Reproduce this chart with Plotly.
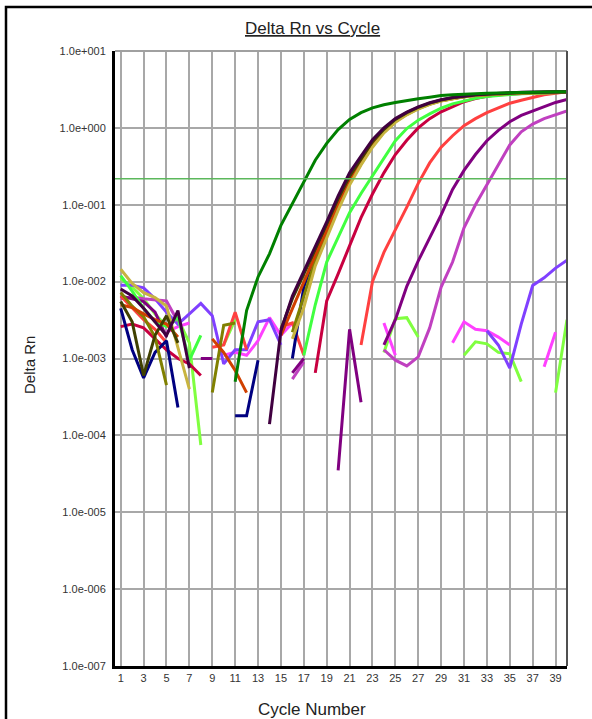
import plotly.graph_objects as go

N = None
cycles = list(range(1, 41))
x_tick_vals = list(range(1, 40, 2))
x_tick_text = [str(v) for v in x_tick_vals]
y_tick_vals = [1e1, 1e0, 1e-1, 1e-2, 1e-3, 1e-4, 1e-5, 1e-6, 1e-7]
y_tick_text = ["1.0e+001", "1.0e+000", "1.0e-001", "1.0e-002", "1.0e-003",
               "1.0e-004", "1.0e-005", "1.0e-006", "1.0e-007"]
threshold = 0.218

# ---- series values (Delta Rn per cycle 1..40, None = not drawn) ----
dark_green = [N, N, N, N, N, N, N, N, N, N,
              5.0e-4, 4.2e-3, 1.15e-2, 2.3e-2, 5.4e-2, 0.105, 0.20, 0.38, 0.63, 0.95,
              1.29, 1.58, 1.82, 2.0, 2.14, 2.29, 2.4, 2.51, 2.63, 2.69,
              2.75, 2.8, 2.82, 2.85, 2.88, 2.9, 2.92, 2.93, 2.94, 2.95]
dark_purple = [8.0e-3, 6.5e-3, 4.5e-3, 3.0e-3, 2.0e-3, 4.2e-3, 7.5e-4, N, N, N,
               N, N, N, 1.4e-4, 2.3e-3, 6.5e-3, 1.35e-2, 2.9e-2, 6.0e-2, 0.13,
               0.26, 0.43, 0.70, 1.0, 1.32, 1.6, 1.88, 2.12, 2.32, 2.48,
               2.6, 2.7, 2.76, 2.82, 2.86, 2.9, 2.92, 2.94, 2.95, 2.96]
dark_olive = [5.5e-3, 3.0e-3, 6.0e-4, 2.0e-3, 3.6e-3, 1.6e-3, N, N, N, N,
              N, N, N, N, 2.4e-3, 6.0e-3, 1.25e-2, 2.7e-2, 5.6e-2, 0.12,
              0.235, 0.40, 0.66, 0.96, 1.29, 1.58, 1.85, 2.1, 2.3, 2.46,
              2.58, 2.68, 2.74, 2.8, 2.84, 2.87, 2.89, 2.91, 2.92, 2.93]
navy = [4.5e-3, 1.3e-3, 5.6e-4, 1.2e-3, 1.7e-3, 2.3e-4, N, N, N, N,
        1.8e-4, 1.8e-4, 9.5e-4, N, N, 1.0e-3, 8.5e-3, 2.3e-2, 5.0e-2, 0.108,
        0.215, 0.37, 0.62, 0.92, 1.25, 1.54, 1.81, 2.07, 2.27, 2.43,
        2.56, 2.66, 2.73, 2.79, 2.83, 2.86, 2.88, 2.9, 2.91, 2.92]
olive = [7.2e-3, 4.8e-3, 3.5e-3, 1.9e-3, 4.5e-4, N, N, N, 3.6e-4, 2.7e-3,
         2.9e-3, N, N, N, N, 2.2e-3, 6.5e-3, 1.9e-2, 4.2e-2, 9.2e-2,
         0.19, 0.34, 0.58, 0.88, 1.2, 1.5, 1.78, 2.03, 2.25, 2.41,
         2.54, 2.64, 2.71, 2.77, 2.81, 2.85, 2.87, 2.89, 2.9, 2.91]
khaki = [1.45e-2, 9.5e-3, 7.2e-3, 6.2e-3, 4.8e-3, 1.4e-3, 4.0e-4, N, N, N,
         N, N, N, N, N, 1.8e-3, 4.6e-3, 1.6e-2, 3.8e-2, 8.5e-2,
         0.18, 0.33, 0.56, 0.86, 1.18, 1.48, 1.76, 2.02, 2.24, 2.4,
         2.53, 2.63, 2.7, 2.76, 2.8, 2.84, 2.86, 2.88, 2.9, 2.91]
orange_brown = [5.0e-3, 4.6e-3, 3.8e-3, 3.2e-3, 2.8e-3, 1.9e-3, N, N, 1.8e-3, 1.2e-3,
                7.0e-4, 3.6e-4, N, N, 2.0e-3, 4.5e-3, 1.0e-2, 2.2e-2, 4.6e-2, 0.10,
                0.20, 0.36, 0.60, 0.90, 1.22, 1.52, 1.8, 2.05, 2.26, 2.42,
                2.55, 2.65, 2.72, 2.78, 2.82, 2.85, 2.88, 2.9, 2.92, 2.95]
red = [6.5e-3, 4.5e-3, 3.2e-3, 2.4e-3, 1.6e-3, N, N, N, 1.4e-3, 1.5e-3,
       4.0e-3, 1.3e-3, N, N, 2.6e-3, 2.9e-3, 1.1e-3, N, N, N,
       N, 1.5e-3, 1.0e-2, 2.4e-2, 4.7e-2, 9.3e-2, 0.19, 0.35, 0.56, 0.79,
       1.07, 1.32, 1.58, 1.82, 2.09, 2.29, 2.51, 2.69, 2.82, 2.95]
crimson = [2.6e-3, 2.8e-3, 2.5e-3, 1.8e-3, 1.3e-3, 1.0e-3, 8.5e-4, 6.0e-4, N, N,
           N, N, N, N, N, N, N, 6.5e-4, 5.6e-3, 1.26e-2,
           3.0e-2, 6.8e-2, 0.138, 0.26, 0.45, 0.69, 1.0, 1.32, 1.62, 1.9,
           2.19, 2.4, 2.57, 2.69, 2.75, 2.82, 2.88, 2.9, 2.95, 2.98]
bright_green = [1.2e-2, 7.5e-3, 4.5e-3, 3.0e-3, 2.6e-3, 3.4e-3, 9.5e-4, 2.0e-3, N, N,
                N, N, N, N, N, N, 1.1e-3, 5.0e-3, 1.8e-2, 3.8e-2,
                7.9e-2, 0.14, 0.24, 0.40, 0.68, 0.98, 1.26, 1.52, 1.8, 2.05,
                2.25, 2.42, 2.55, 2.65, 2.72, 2.78, 2.82, 2.85, 2.88, 2.9]
chartreuse = [1.1e-2, 8.5e-3, 6.0e-3, 3.8e-3, 2.6e-3, 3.3e-3, 1.6e-3, 7.5e-5, N, 1.5e-3,
              3.2e-3, N, N, N, N, N, N, N, N, N,
              N, N, N, 1.2e-3, 3.3e-3, 3.4e-3, 1.9e-3, N, N, N,
              1.1e-3, 1.65e-3, 1.55e-3, 1.2e-3, 1.15e-3, 5.0e-4, N, N, 3.6e-4, 3.2e-3]
purple = [6.5e-3, 6.0e-3, 5.5e-3, 4.0e-3, 1.9e-3, N, N, 1.0e-3, 1.0e-3, N,
          N, N, N, N, N, 6.5e-4, 1.0e-3, N, N, 3.5e-5,
          2.4e-3, 2.7e-4, N, 1.5e-3, 3.2e-3, 8.7e-3, 1.86e-2, 3.7e-2, 7.4e-2, 0.158,
          0.28, 0.45, 0.68, 0.93, 1.2, 1.45, 1.66, 1.9, 2.14, 2.34]
orchid = [6.0e-3, 6.3e-3, 6.0e-3, 5.8e-3, 5.6e-3, 3.0e-3, N, N, N, N,
          N, N, N, N, N, 5.4e-4, 9.0e-4, N, N, N,
          N, N, N, 1.3e-3, 9.5e-4, 8.0e-4, 1.05e-3, 2.5e-3, 8.5e-3, 1.8e-2,
          5.0e-2, 0.10, 0.18, 0.33, 0.60, 0.89, 1.12, 1.32, 1.48, 1.66]
magenta = [N, N, N, N, 2.2e-3, 2.6e-3, 2.9e-3, N, N, 1.1e-3,
           1.2e-3, 1.1e-3, 1.7e-3, 3.4e-3, 2.0e-3, 2.9e-3, N, N, N, N,
           N, N, N, 2.9e-3, 1.1e-3, N, N, N, N, 1.6e-3,
           3.0e-3, 2.4e-3, 2.3e-3, 1.9e-3, 1.5e-3, N, N, 7.8e-4, 2.2e-3, N]
blue_violet = [9.0e-3, 9.0e-3, 8.3e-3, 6.0e-3, 4.0e-3, 2.8e-3, 3.8e-3, 5.2e-3, 3.6e-3, 8.5e-4,
               1.3e-3, 1.3e-3, 3.0e-3, 3.2e-3, 1.5e-3, N, N, N, N, N,
               N, N, N, N, N, N, N, N, N, N,
               N, N, 2.3e-3, 1.5e-3, 7.5e-4, 2.8e-3, 8.9e-3, 1.12e-2, 1.5e-2, 1.9e-2]

series = [
    (chartreuse, "#80FF40"),
    (magenta, "#FF40FF"),
    (blue_violet, "#8040FF"),
    (orchid, "#C040C0"),
    (purple, "#800080"),
    (red, "#FF4040"),
    (crimson, "#C80040"),
    (bright_green, "#40FF40"),
    (navy, "#000080"),
    (olive, "#808000"),
    (orange_brown, "#D04000"),
    (khaki, "#C8B440"),
    (dark_olive, "#404000"),
    (dark_purple, "#400040"),
    (dark_green, "#008000"),
]

fig = go.Figure()
for vals, col in series:
    fig.add_trace(go.Scatter(x=cycles, y=vals, mode="lines",
                             line=dict(color=col, width=3),
                             connectgaps=False, showlegend=False, hoverinfo="skip"))

fig.add_trace(go.Scatter(x=[0.5, 40], y=[threshold, threshold], mode="lines",
                         line=dict(color="#5CB85C", width=1.5),
                         showlegend=False, hoverinfo="skip"))

L, R, T, B = 115, 25, 51, 53
W, H = 592, 719
pw, ph = W - L - R, H - T - B


def px(xp):
    return (xp - L) / pw


def py(yp):
    return (H - B - yp) / ph


fig.update_layout(
    width=W, height=H,
    margin=dict(l=L, r=R, t=T, b=B, pad=0),
    paper_bgcolor="white", plot_bgcolor="white",
    font=dict(family="Liberation Sans, Arial, sans-serif", color="#222222"),
    xaxis=dict(range=[0.5, 40], tickvals=x_tick_vals, ticktext=x_tick_text,
               showgrid=True, gridcolor="#A8A8A8", gridwidth=1.5,
               zeroline=False, showline=True, linecolor="black", linewidth=3,
               ticks="", tickfont=dict(size=11, color="#333333")),
    yaxis=dict(type="log", range=[-7, 1], tickvals=y_tick_vals, ticktext=y_tick_text,
               showgrid=True, gridcolor="#A8A8A8", gridwidth=1.5,
               zeroline=False, showline=True, linecolor="black", linewidth=3,
               ticks="", ticklabelstandoff=4, tickfont=dict(size=11, color="#333333")),
    shapes=[
        dict(type="line", xref="paper", yref="paper", x0=0, x1=1, y0=1, y1=1,
             line=dict(color="#A0A0A0", width=2)),
        dict(type="line", xref="paper", yref="paper", x0=1, x1=1, y0=0, y1=1,
             line=dict(color="#505050", width=2)),
        dict(type="rect", xref="paper", yref="paper", x0=px(6), x1=px(620),
             y0=py(760), y1=py(7), line=dict(color="black", width=2.5)),
    ],
    annotations=[
        dict(text="<u>Delta Rn vs Cycle</u>", xref="paper", yref="paper",
             x=px(312), y=py(28), showarrow=False, xanchor="center", yanchor="middle",
             font=dict(size=17, color="#222222")),
        dict(text="Delta Rn", xref="paper", yref="paper", textangle=-90,
             x=px(30), y=py(365), showarrow=False, xanchor="center", yanchor="middle",
             font=dict(size=15, color="#222222")),
        dict(text="Cycle Number", xref="paper", yref="paper",
             x=px(312), y=py(709), showarrow=False, xanchor="center", yanchor="middle",
             font=dict(size=17, color="#222222")),
    ],
)

fig.write_html("out.html",
               config={"displayModeBar": False},
               post_script="document.body.style.margin='0';document.body.style.overflow='hidden';")
